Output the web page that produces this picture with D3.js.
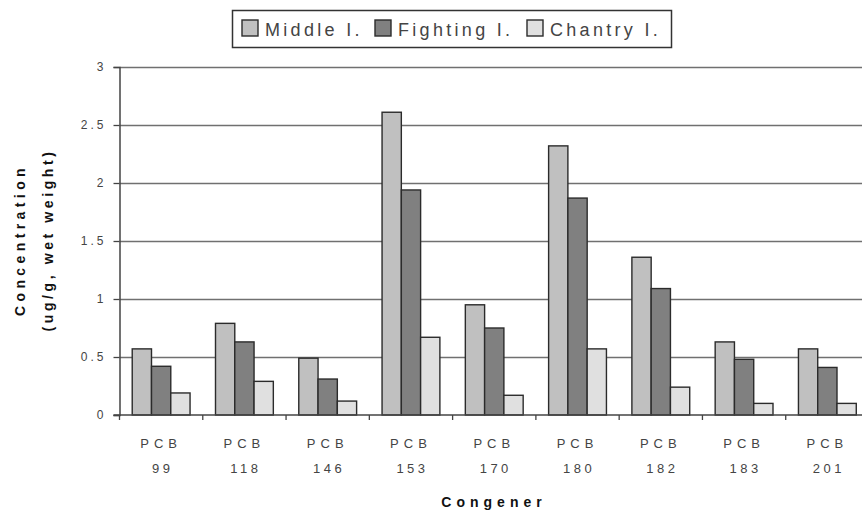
<!DOCTYPE html>
<html>
<head>
<meta charset="utf-8">
<script src="https://d3js.org/d3.v7.min.js"></script>
<style>
  html, body { margin: 0; padding: 0; background: #fff; }
  svg { display: block; }
</style>
</head>
<body>
<div id="chart"></div>
<script>
// chart data
const congeners = ["99", "118", "146", "153", "170", "180", "182", "183", "201"];
const seriesNames = ["Middle I.", "Fighting I.", "Chantry I."];
const middleValues = [0.57, 0.79, 0.49, 2.61, 0.95, 2.32, 1.36, 0.63, 0.57];
const fightingValues = [0.42, 0.63, 0.31, 1.94, 0.75, 1.87, 1.09, 0.48, 0.41];
const chantryValues = [0.19, 0.29, 0.12, 0.67, 0.17, 0.57, 0.24, 0.10, 0.10];
const yTicks = [0, 0.5, 1, 1.5, 2, 2.5, 3];

const seriesValues = [middleValues, fightingValues, chantryValues];
const colors = ["#c0c0c0", "#808080", "#e0e0e0"];

const width = 862, height = 514;
const margin = { top: 67, right: -7, bottom: 99, left: 119.5 };
const font = "'Liberation Sans', Arial, sans-serif";

const svg = d3.select("#chart")
  .append("svg")
  .attr("width", width)
  .attr("height", height);

svg.append("rect").attr("width", width).attr("height", height).attr("fill", "#fff");

// scales
const x0 = d3.scaleBand()
  .domain(congeners)
  .range([margin.left, width - margin.right])
  .padding(0);

const x1 = d3.scaleBand()
  .domain(seriesNames)
  .range([0, x0.bandwidth()])
  .paddingInner(0)
  .paddingOuter(0.66);

const y = d3.scaleLinear()
  .domain([0, 3])
  .range([height - margin.bottom, margin.top]);

// horizontal gridlines
svg.append("g")
  .selectAll("line")
  .data(yTicks.filter(d => d > 0))
  .enter()
  .append("line")
  .attr("x1", margin.left)
  .attr("x2", width - margin.right)
  .attr("y1", d => Math.round(y(d)) + 0.5)
  .attr("y2", d => Math.round(y(d)) + 0.5)
  .attr("stroke", "#707070")
  .attr("stroke-width", 1.6);

// bars
const groups = svg.append("g")
  .selectAll("g")
  .data(congeners)
  .enter()
  .append("g")
  .attr("transform", d => `translate(${x0(d)},0)`);

groups.selectAll("rect")
  .data((c, i) => seriesNames.map((s, j) => ({ series: s, value: seriesValues[j][i], color: colors[j] })))
  .enter()
  .append("rect")
  .attr("x", d => x1(d.series))
  .attr("y", d => y(d.value))
  .attr("width", x1.bandwidth())
  .attr("height", d => y(0) - y(d.value))
  .attr("fill", d => d.color)
  .attr("stroke", "#2b2b2b")
  .attr("stroke-width", 1.4);

// y axis
const yAxis = svg.append("g")
  .attr("transform", `translate(${margin.left},0)`)
  .call(d3.axisLeft(y)
    .tickValues(yTicks)
    .tickSize(6)
    .tickPadding(7)
    .tickFormat(d3.format("")));

yAxis.select(".domain").attr("stroke", "#444").attr("stroke-width", 1.5);
yAxis.selectAll(".tick line").attr("stroke", "#444").attr("stroke-width", 1.3);
yAxis.selectAll(".tick text")
  .style("font-family", font)
  .style("font-size", "12px")
  .style("letter-spacing", "3px")
  .attr("fill", "#444");

// x axis line and boundary ticks
svg.append("line")
  .attr("x1", margin.left - 6)
  .attr("x2", width - margin.right)
  .attr("y1", y(0))
  .attr("y2", y(0))
  .attr("stroke", "#444")
  .attr("stroke-width", 1.6);

svg.append("g")
  .selectAll("line")
  .data(congeners)
  .enter()
  .append("line")
  .attr("x1", d => x0(d))
  .attr("x2", d => x0(d))
  .attr("y1", y(0))
  .attr("y2", y(0) + 5)
  .attr("stroke", "#444")
  .attr("stroke-width", 1.3);

// category labels
const catLabels = svg.append("g")
  .selectAll("g")
  .data(congeners)
  .enter()
  .append("g")
  .attr("transform", d => `translate(${x0(d) + x0.bandwidth() / 2},0)`);

catLabels.append("text")
  .attr("y", 448)
  .attr("text-anchor", "middle")
  .text("PCB")
  .style("font-family", font)
  .style("font-size", "13px")
  .style("letter-spacing", "5px")
  .attr("fill", "#444");

catLabels.append("text")
  .attr("y", 473)
  .attr("x", 1.5)
  .attr("text-anchor", "middle")
  .text(d => d)
  .style("font-family", font)
  .style("font-size", "13px")
  .style("letter-spacing", "3.5px")
  .attr("fill", "#444");

// x axis title
svg.append("text")
  .attr("x", 494)
  .attr("y", 507)
  .attr("text-anchor", "middle")
  .text("Congener")
  .style("font-family", font)
  .style("font-size", "14px")
  .style("font-weight", "bold")
  .style("letter-spacing", "5px")
  .attr("fill", "#111");

// y axis title, two lines
const yTitle = svg.append("text")
  .attr("transform", "translate(0,240) rotate(-90)")
  .attr("text-anchor", "middle")
  .style("font-family", font)
  .style("font-size", "14px")
  .style("font-weight", "bold")
  .attr("fill", "#111");

yTitle.append("tspan")
  .attr("x", 0)
  .attr("y", 25)
  .style("letter-spacing", "4.4px")
  .text("Concentration");

yTitle.append("tspan")
  .attr("x", 0)
  .attr("y", 53)
  .style("letter-spacing", "3.6px")
  .text("(ug/g, wet weight)");

// legend
const legend = svg.append("g");

legend.append("rect")
  .attr("x", 232.5)
  .attr("y", 10.5)
  .attr("width", 439)
  .attr("height", 37)
  .attr("fill", "#fff")
  .attr("stroke", "#333")
  .attr("stroke-width", 1.5);

const legendX = [242, 375, 527];

const items = legend.selectAll("g")
  .data(seriesNames)
  .enter()
  .append("g")
  .attr("transform", (d, i) => `translate(${legendX[i]},20)`);

items.append("rect")
  .attr("width", 16)
  .attr("height", 16)
  .attr("fill", (d, i) => colors[i])
  .attr("stroke", "#2b2b2b")
  .attr("stroke-width", 1.4);

items.append("text")
  .attr("x", 23)
  .attr("y", 15.5)
  .text(d => d)
  .style("font-family", font)
  .style("font-size", "18px")
  .style("letter-spacing", "3.3px")
  .attr("fill", "#444");
</script>
</body>
</html>
